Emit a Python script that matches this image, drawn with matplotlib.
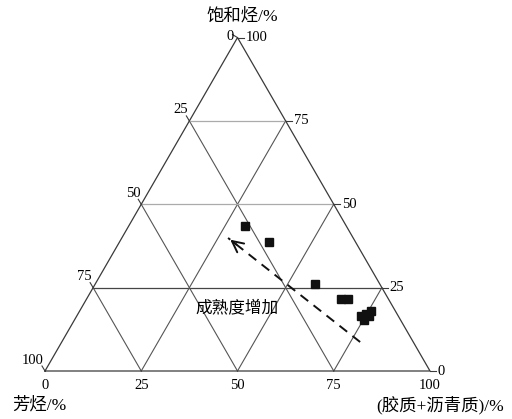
import numpy as np
import matplotlib
matplotlib.use("Agg")
import matplotlib.pyplot as plt

# Ternary composition of crude oil samples (percent)
saturates = [43.5, 38.7, 26.1, 21.6, 21.6, 16.5, 17.1, 18.0, 15.3, 16.5]
resins_asph = [30.2, 38.8, 57.0, 66.1, 67.9, 73.8, 74.8, 75.7, 75.2, 75.9]
aromatics = [100 - s - r for s, r in zip(saturates, resins_asph)]

# Maturity trend arrow (start, end) as (saturates, resins+asphaltenes)
trend_start = (8.7, 77.5)
trend_end = (39.9, 27.6)

grid_levels = [25, 50, 75]
tick_values = [0, 25, 50, 75, 100]
tick_labels = ["0", "25", "50", "75", "100"]

SQ3 = np.sqrt(3) / 2


def to_xy(s, r):
    """Saturates at top vertex, aromatics bottom-left, resins+asphaltenes bottom-right."""
    s = np.asarray(s, float) / 100
    r = np.asarray(r, float) / 100
    return r + s / 2, s * SQ3


serif = ["Liberation Serif", "Noto Sans CJK SC"]

fig = plt.figure(figsize=(5.12, 4.19), dpi=100)
ax = fig.add_axes([0, 0, 1, 1])
sc = 385.0
ax.set_xlim(-45 / sc, (512 - 45) / sc)
ax.set_ylim(-48 / sc, (419 - 48) / sc)
ax.axis("off")

edge_c = "#3a3a3a"
diag_c = "#555555"
horiz_c = {25: "#454545", 50: "#ababab", 75: "#ababab"}

# Triangle outline
tx, ty = to_xy([0, 0, 100, 0], [0, 100, 0, 0])
ax.plot(tx, ty, color=edge_c, lw=0.9, zorder=2)

# Grid lines parallel to each edge
for v in grid_levels:
    gx, gy = to_xy([v, v], [0, 100 - v])          # constant saturates
    ax.plot(gx, gy, color=horiz_c[v], lw=0.9, zorder=1)
    gx, gy = to_xy([0, 100 - v], [v, v])          # constant resins+asphaltenes
    ax.plot(gx, gy, color=diag_c, lw=0.8, zorder=1)
    gx, gy = to_xy([0, 100 - v], [100 - v, 0])    # constant aromatics
    ax.plot(gx, gy, color=diag_c, lw=0.8, zorder=1)

px1 = 1 / sc
tk = 6 * px1
for v, lab in zip(tick_values, tick_labels):
    # bottom axis (resins+asphaltenes)
    bx, by = to_xy(0, v)
    ax.text(bx, by - 8 * px1, lab, ha="center", va="top",
            fontsize=10.5, family=serif)
    # right side (saturates)
    rx, ry = to_xy(v, 100 - v)
    ax.plot([rx, rx + tk], [ry, ry], color=edge_c, lw=0.8)
    ax.text(rx + tk + 2 * px1, ry, lab, ha="left", va="center",
            fontsize=10.5, family=serif)
    # left side (aromatics): 0 at top, 100 at bottom-left
    lx, ly = to_xy(100 - v, 0)
    if v == 0:
        ax.plot([lx, lx - 5 * px1], [ly, ly + 3 * px1], color=edge_c, lw=0.8)
        ax.text(lx - 4 * px1, ly + 1 * px1, lab, ha="right", va="center",
                fontsize=10.5, family=serif)
    else:
        ax.plot([lx, lx - 3 * px1], [ly, ly + 5 * px1], color=edge_c, lw=0.8)
        ax.text(lx - 1 * px1, ly + 11 * px1, lab, ha="right", va="center",
                fontsize=10.5, family=serif)

# Axis titles
ax.text((242 - 45) / sc, (371 - 16) / sc, "饱和烃/%", ha="center", va="center",
        fontsize=12.5, family=serif)
ax.text((12 - 45) / sc, (371 - 405) / sc, "芳烃/%", ha="left", va="center",
        fontsize=12.5, family=serif)
ax.text((504 - 45) / sc, (371 - 405) / sc, "(胶质+沥青质)/%", ha="right",
        va="center", fontsize=12.5, family=serif)

# Samples
px, py = to_xy(saturates, resins_asph)
ax.plot(px, py, "s", color="#111111", ms=6, zorder=4, ls="none")

# Maturity trend
x0, y0 = to_xy(*trend_start)
x1, y1 = to_xy(*trend_end)
ax.plot([x0, x1], [y0, y1], color="#111111", lw=1.4, ls=(0, (5, 3.5)), zorder=3)
dx, dy = x1 - x0, y1 - y0
ax.annotate("", xy=(x1, y1), xytext=(x1 - 0.08 * dx, y1 - 0.08 * dy),
            arrowprops=dict(arrowstyle="->", color="#111111", lw=1.4,
                            mutation_scale=20), zorder=3)
ax.text((237 - 45) / sc, (371 - 308) / sc, "成熟度增加", ha="center",
        va="center", fontsize=12, family=serif)

fig.savefig("out.png", dpi=100)
